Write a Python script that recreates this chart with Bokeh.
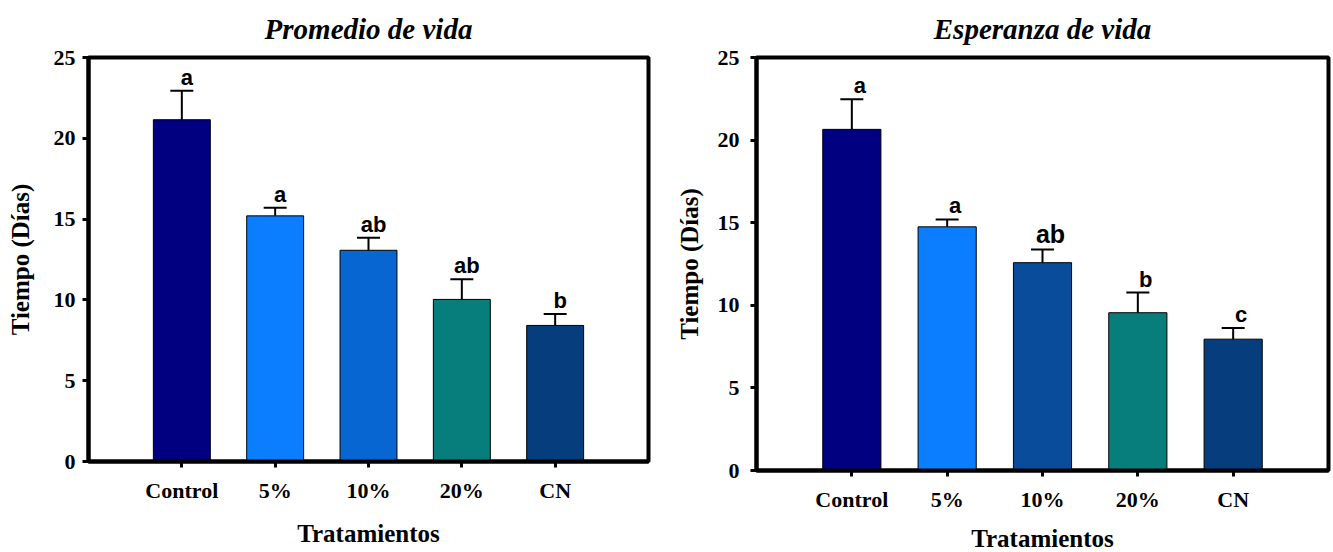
from bokeh.plotting import figure
from bokeh.models import Range1d, FixedTicker, Whisker, TeeHead, ColumnDataSource
from bokeh.layouts import row
from bokeh.core.properties import value
from bokeh.embed import file_html
from bokeh.resources import INLINE

# ---------------- data ----------------
categories = ["Control", "5%", "10%", "20%", "CN"]
y_ticks = [0, 5, 10, 15, 20, 25]

promedio = [21.15, 15.2, 13.07, 10.03, 8.42]
promedio_err = [1.8, 0.5, 0.78, 1.25, 0.7]
promedio_letters = ["a", "a", "ab", "ab", "b"]

esperanza = [20.65, 14.75, 12.58, 9.55, 7.95]
esperanza_err = [1.83, 0.45, 0.8, 1.22, 0.67]
esperanza_letters = ["a", "a", "ab", "b", "c"]

titles = ["Promedio de vida", "Esperanza de vida"]
x_label = "Tratamientos"
y_label = "Tiempo (Días)"

# ---------------- style ----------------
colors_left = ["#000080", "#0A7EFF", "#0866D2", "#087E7C", "#063D7D"]
colors_right = ["#000080", "#0A7EFF", "#0A4C9C", "#087E7C", "#063D7D"]
SERIF = "Liberation Serif"
SANS = "Liberation Sans"


def make_panel(title, vals, errs, letters, colors, geom):
    (fw, fh, bl, br, bt, bb, ylab_standoff, ytick_standoff, letter_dx,
     xlab_standoff, big_ab, title_standoff) = geom
    p = figure(frame_width=fw, frame_height=fh, output_backend="svg",
               toolbar_location=None, x_range=Range1d(0, len(categories) + 1),
               y_range=Range1d(0, 25), min_border_left=bl, min_border_right=br,
               min_border_top=bt, min_border_bottom=bb, title=title)
    p.title.text_font = SERIF
    p.title.text_font_style = "bold italic"
    p.title.text_font_size = "29px"
    p.title.align = "center"
    p.title.vertical_align = "top"
    p.title.standoff = title_standoff
    p.title.text_color = "black"

    xs = [i + 1 for i in range(len(categories))]
    upper = [v + e for v, e in zip(vals, errs)]
    src = ColumnDataSource(dict(x=xs, top=vals, upper=upper, color=colors,
                                letter=letters, cat=categories))

    p.vbar(x="x", top="top", bottom=0, width=0.61, fill_color="color",
           line_color="black", line_width=1, source=src)
    w = Whisker(base="x", lower="top", upper="upper", source=src,
                dimension="height", line_color="black", line_width=2,
                upper_head=TeeHead(size=23, line_color="black", line_width=2),
                lower_head=None)
    p.add_layout(w)

    # letters: normal size, and optionally a larger "ab"
    idx_big = [i for i, l in enumerate(letters) if big_ab and l == "ab"]
    idx_norm = [i for i in range(len(letters)) if i not in idx_big]
    for idxs, size in ((idx_norm, "22px"), (idx_big, "25px")):
        if not idxs:
            continue
        s = ColumnDataSource(dict(x=[xs[i] for i in idxs],
                                  upper=[upper[i] for i in idxs],
                                  letter=[letters[i] for i in idxs]))
        p.text(x="x", y="upper", text="letter", source=s, text_align="center",
               text_baseline="bottom", x_offset=letter_dx, y_offset=-1,
               text_font=value(SANS), text_font_style="bold",
               text_font_size=value(size), text_color="black")

    p.grid.visible = False
    p.outline_line_color = "black"
    p.outline_line_width = 4
    p.background_fill_color = "white"
    p.border_fill_color = "white"

    xa = p.xaxis[0]
    xa.ticker = FixedTicker(ticks=xs)
    xa.major_label_overrides = {x: c for x, c in zip(xs, categories)}
    xa.axis_label = x_label
    ya = p.yaxis[0]
    ya.ticker = FixedTicker(ticks=y_ticks)
    ya.axis_label = y_label
    for ax in (xa, ya):
        ax.axis_line_width = 4
        ax.axis_line_color = "black"
        ax.major_tick_out = 6
        ax.major_tick_in = 0
        ax.major_tick_line_width = 3
        ax.major_tick_line_color = "black"
        ax.minor_tick_line_color = None
        ax.major_label_text_font = SERIF
        ax.major_label_text_font_style = "bold"
        ax.major_label_text_font_size = "22px"
        ax.major_label_text_color = "black"
        ax.axis_label_text_font = SERIF
        ax.axis_label_text_font_style = "bold"
        ax.axis_label_text_font_size = "25px"
        ax.axis_label_text_color = "black"
    xa.major_label_standoff = 10
    xa.axis_label_standoff = xlab_standoff
    ya.major_label_standoff = ytick_standoff
    ya.axis_label_standoff = ylab_standoff
    return p


p1 = make_panel(titles[0], promedio, promedio_err, promedio_letters, colors_left,
                (560, 404, 88, 22, 57, 91, 17, 7, 5, 14, False, 22))
p2 = make_panel(titles[1], esperanza, esperanza_err, esperanza_letters, colors_right,
                (572, 413, 86, 5, 56, 83, 12, 11, 8, 10, True, 22))

layout = row(p1, p2)
open("out.html", "w").write(file_html(layout, INLINE))
